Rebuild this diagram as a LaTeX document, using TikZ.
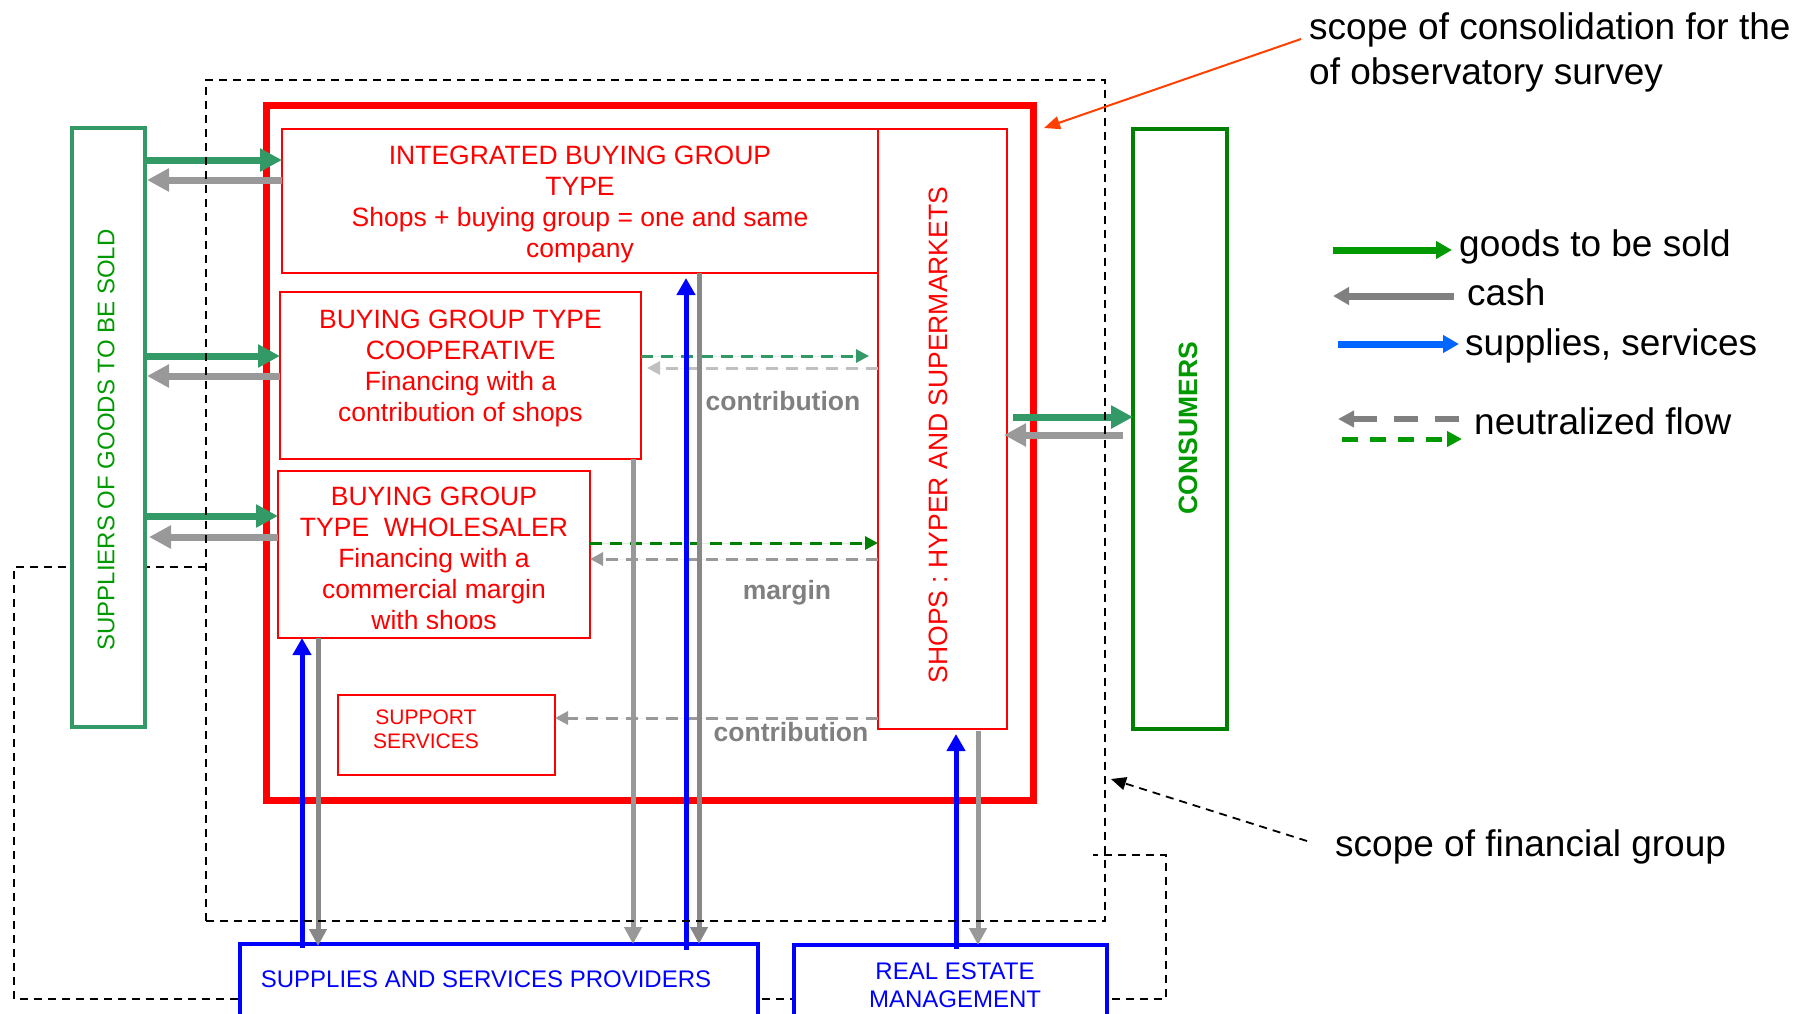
\documentclass[tikz,border=0pt]{standalone}
\usepackage{fontspec}
\setmainfont{Liberation Sans}
\usetikzlibrary{arrows.meta,calc}

\definecolor{supgreen}{HTML}{339966}
\definecolor{consgreen}{HTML}{008000}
\definecolor{txtgreen}{HTML}{009900}
\definecolor{cashgray}{HTML}{999999}
\definecolor{darkcash}{HTML}{888888}
\definecolor{lightcash}{HTML}{C0C0C0}
\definecolor{labelgray}{HTML}{808080}
\definecolor{legblue}{HTML}{0066FF}
\definecolor{noteorange}{HTML}{FF4000}

\newcommand\fsBody{\fontsize{26.5pt}{31pt}\selectfont}
\newcommand\fsProv{\fontsize{24pt}{28pt}\selectfont}
\newcommand\fsSupp{\fontsize{21pt}{24pt}\selectfont}
\newcommand\fsNote{\fontsize{37pt}{45pt}\selectfont}

\tikzset{
  box/.style={draw, fill=white, inner sep=0pt, outer sep=0pt},
  redbox/.style={box, draw=red, line width=2pt},
  bluebox/.style={box, draw=blue, line width=4pt},
  redtext/.style={text=red, font=\fsBody, align=center},
  bluetext/.style={text=blue, font=\fsProv, align=center},
  flowlabel/.style={text=labelgray, font=\fsBody\bfseries},
  notetext/.style={font=\fsNote, align=left, anchor=west, inner sep=0pt},
  fatgreen/.style={line width=7pt, draw=supgreen, -{Triangle[length=22pt,width=22pt]}},
  fatgray/.style={line width=7pt, draw=cashgray, -{Triangle[length=22pt,width=22pt]}},
  vblue/.style={line width=5pt, draw=blue, -{Triangle[length=17pt,width=18pt]}},
  vgray/.style={line width=5pt, draw=cashgray, -{Triangle[length=17pt,width=17pt]}},
  flowdash/.style={line width=3pt, dash pattern=on 12pt off 8pt, -{Triangle[length=13pt,width=13pt]}},
  scopeline/.style={draw=black, line width=1.8pt, dash pattern=on 8pt off 6pt},
}

\begin{document}
\begin{tikzpicture}[x=1pt,y=-1pt]
\clip (0,0) rectangle (1798,1013);
\fill[white] (0,0) rectangle (1798,1013);

% outline of the financial group around the external providers
\draw[scopeline] (206,567) -- (14,567) -- (14,999) -- (1166,999) -- (1166,855) -- (1093,855);

% scope of consolidation
\node[draw=red, line width=7pt, inner sep=0pt, outer sep=0pt,
      minimum width=767pt, minimum height=695pt] (scons) at (649.5,452.5) {};

% boxes
\node[box, draw=supgreen, line width=3.5pt, minimum width=73pt, minimum height=599pt] (sup) at (108.5,427.5) {};
\node[box, draw=consgreen, line width=4pt, minimum width=94pt, minimum height=600pt] (cons) at (1180,429) {};
\node[redbox, minimum width=596pt, minimum height=144pt] (intg) at (580,201) {};
\node[redbox, minimum width=129pt, minimum height=600pt] (shops) at (942.5,429) {};
\node[redbox, minimum width=361pt, minimum height=167pt] (coop) at (460.5,375.5) {};
\node[redbox, minimum width=312pt, minimum height=167pt] (whol) at (434,554.5) {};
\node[redbox, minimum width=217pt, minimum height=80pt] (supp) at (446.5,735) {};
\node[bluebox, minimum width=518pt, minimum height=100pt] (ssp) at (499,994) {};
\node[bluebox, minimum width=313pt, minimum height=100pt] (rem) at (950.5,995) {};

% box texts
\node[redtext] (intgT) at (580,204) {INTEGRATED BUYING GROUP\\TYPE\\Shops + buying group = one and same\\company};
\node[redtext] (coopT) at (460.5,368) {BUYING GROUP TYPE\\COOPERATIVE\\Financing with a\\contribution of shops};
\begin{scope}
  \clip (whol.north west) rectangle ($(whol.south east)+(0,-10)$);
  \node[redtext] (wholT) at (434,561) {BUYING GROUP\\TYPE~ WHOLESALER\\Financing with a\\commercial margin\\with shops};
\end{scope}
\node[redtext, font=\fsSupp] (suppT) at (426,729) {SUPPORT\\SERVICES};
\node[redtext, rotate=90] (shopsT) at (938,435) {SHOPS : HYPER AND SUPERMARKETS};
\node[text=txtgreen, font=\fsBody\bfseries, rotate=90] (consT) at (1188,428) {CONSUMERS};
\node[text=txtgreen, font=\fsProv, rotate=90] (supT) at (106,440) {SUPPLIERS OF GOODS TO BE SOLD};
\node[bluetext] (sspT) at (486,979) {SUPPLIES AND SERVICES PROVIDERS};
\node[bluetext] (remT) at (955,985) {REAL ESTATE\\MANAGEMENT};

% flow labels
\node[flowlabel] (lbContrib) at (783,401) {contribution};
\node[flowlabel] (lbMargin) at (787,593) {margin};
\node[flowlabel] (lbSupport) at (791,732) {contribution};

% goods and cash with the suppliers
\draw[fatgreen] (sup.east |- 0,160) -- (intg.west |- 0,160);
\draw[fatgray] (intg.west |- 0,180) -- ($(sup.east |- 0,180)+(2,0)$);
\draw[fatgreen] (sup.east |- 0,356) -- (coop.west |- 0,356);
\draw[fatgray] (coop.west |- 0,376) -- ($(sup.east |- 0,376)+(2,0)$);
\draw[fatgreen] (sup.east |- 0,516) -- (whol.west |- 0,516);
\draw[fatgray] (whol.west |- 0,537) -- ($(sup.east |- 0,537)+(4,0)$);

% goods and cash with the consumers
\draw[fatgreen] ($(shops.east |- 0,417)+(6,0)$) -- (cons.west |- 0,417);
\draw[fatgray] ($(cons.west |- 0,435)+(-10,0)$) -- ($(shops.east |- 0,435)+(-3,0)$);

% neutralized flows between shops and buying groups
\draw[flowdash, draw=supgreen, fill=supgreen] (coop.east |- 0,356) -- ($(shops.west |- 0,356)+(-9,0)$);
\draw[flowdash, draw=lightcash, fill=lightcash] (shops.west |- 0,368) -- ($(coop.east |- 0,368)+(6,0)$);
\draw[flowdash, draw=consgreen, fill=consgreen] (whol.east |- 0,543) -- (shops.west |- 0,543);
\draw[flowdash, draw=cashgray, fill=cashgray] (shops.west |- 0,559) -- (whol.east |- 0,559);
\draw[flowdash, draw=cashgray, fill=cashgray] (shops.west |- 0,718) -- (supp.east |- 0,718);

% supplies, services and cash with the providers
\draw[vblue] ($(ssp.north -| 302,0)+(0,4)$) -- (whol.south -| 302,0);
\draw[vgray, draw=darkcash] (whol.south -| 318,0) -- ($(ssp.north -| 318,0)+(0,2)$);
\draw[vgray] (coop.south -| 633,0) -- (ssp.north -| 633,0);
\draw[vblue] ($(ssp.north -| 686,0)+(0,6)$) -- ($(intg.south -| 686,0)+(0,5)$);
\draw[vgray, draw=darkcash] (intg.south -| 699,0) -- (ssp.north -| 699,0);
\draw[vblue] ($(rem.north -| 956,0)+(0,4)$) -- ($(shops.south -| 956,0)+(0,5)$);
\draw[vgray] ($(shops.south -| 978,0)+(0,2)$) -- (rem.north -| 978,0);

% scope of the financial group
\node[scopeline, inner sep=0pt, outer sep=0pt, minimum width=899pt, minimum height=841pt] (fin) at (655.5,500.5) {};

% notes
\node[notetext] (consol) at (1309,52.5) {scope of consolidation for the\\of observatory survey};
\draw[noteorange, line width=2pt, -{Triangle[length=16pt,width=13pt]}]
  ($(consol.west)+(-8,-13.5)$) -- ($(scons.north east)+(11,23)$);
\node[notetext] (fing) at (1335,847) {scope of financial group};
\draw[scopeline, -{Triangle[length=15pt,width=13pt]}]
  ($(fing.west)+(-28,-6)$) -- ($(fin.east |- 0,779)+(6,0)$);

% legend
\node[notetext] (lgGoods) at (1459,247) {goods to be sold};
\node[notetext] (lgCash) at (1467,292.5) {cash};
\node[notetext] (lgSupp) at (1465,346) {supplies, services};
\node[notetext] (lgNeut) at (1474,421) {neutralized flow};
\draw[line width=7pt, draw=txtgreen, -{Triangle[length=16pt,width=17pt]}]
  ($(lgGoods.west)+(-126,3)$) -- ($(lgGoods.west)+(-7,3)$);
\draw[line width=7pt, draw=labelgray, -{Triangle[length=16pt,width=17pt]}]
  ($(lgCash.west)+(-13,3.5)$) -- ($(lgCash.west)+(-134,3.5)$);
\draw[line width=7pt, draw=legblue, -{Triangle[length=16pt,width=17pt]}]
  ($(lgSupp.west)+(-127,-2)$) -- ($(lgSupp.west)+(-6,-2)$);
\draw[line width=6pt, draw=labelgray, dash pattern=on 24pt off 17pt, -{Triangle[length=16pt,width=16pt]}]
  ($(lgNeut.west)+(-15,-2)$) -- ($(lgNeut.west)+(-136,-2)$);
\draw[line width=5pt, draw=txtgreen, dash pattern=on 16pt off 12pt, -{Triangle[length=15pt,width=15pt]}]
  ($(lgNeut.west)+(-132,18)$) -- ($(lgNeut.west)+(-12,18)$);
\end{tikzpicture}
\end{document}
